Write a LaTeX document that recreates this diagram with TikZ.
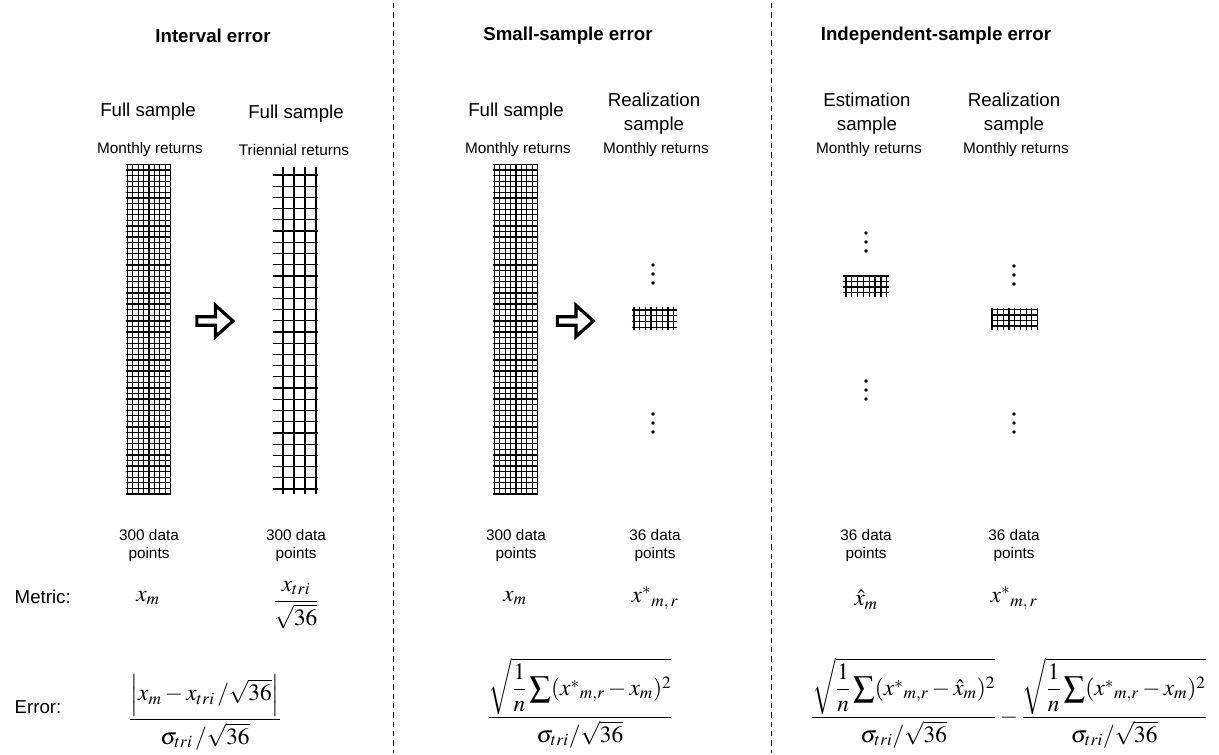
\documentclass[tikz,border=0pt]{standalone}
\usepackage{amsmath}
\usepackage{mathptmx}
\usepackage[no-math]{fontspec}
\setmainfont{Liberation Sans}
\usetikzlibrary{shapes.arrows}

% grid lines: first, last, intervals, from, to
\newcommand{\vlines}[5]{%
  \foreach \i in {0,...,#3}
    \draw[gridline] ({#1+\i/#3*(#2-#1)},#4) -- ({#1+\i/#3*(#2-#1)},#5);}
\newcommand{\hlines}[5]{%
  \foreach \j in {0,...,#3}
    \draw[gridline] (#4,{#1+\j/#3*(#2-#1)}) -- (#5,{#1+\j/#3*(#2-#1)});}
\newcommand{\bsum}{\mathop{\vcenter{\hbox{\scalebox{1.3}{$\sum$}}}}}

\tikzset{
  title/.style={font=\fontsize{14}{16}\selectfont\bfseries},
  head/.style={font=\fontsize{14}{18}\selectfont, align=center},
  sub/.style={font=\fontsize{11.5}{13}\selectfont},
  count/.style={font=\fontsize{11.5}{13.5}\selectfont, align=center},
  metric/.style={font=\fontsize{17.5}{20}\selectfont},
  gridline/.style={line width=0.95pt},
  sep/.style={dash pattern=on 4pt off 3pt, line width=0.6pt},
  bigarrow/.style={single arrow, draw, line width=2.4pt, inner xsep=0pt, inner ysep=2pt,
    minimum height=27pt, single arrow head extend=8.5pt, single arrow tip angle=84},
}

\begin{document}
\begin{tikzpicture}[x=0.75pt, y=-0.75pt]
  \useasboundingbox (0,0) rectangle (1219,755);

  % separators
  \draw[sep] (393,3) -- (393,753);
  \draw[sep] (771,3) -- (771,753);

  % titles
  \node[title] (tint) at (213,36) {Interval error};
  \node[title] (tsmall) at (568,36) {Small-sample error};
  \node[title] (tind) at (936,36) {Independent-sample error};

  % column heads
  \node[head] (hfullA) at (148,112) {Full sample};
  \node[head] (hfullB) at (296,114) {Full sample};
  \node[head] (hfullC) at (516,112) {Full sample};
  \node[head] (hrealA) at (654,114) {Realization\\sample};
  \node[head] (hest) at (867,114) {Estimation\\sample};
  \node[head] (hrealB) at (1014,114) {Realization\\sample};

  \node[sub] (sA) at (150,150) {Monthly returns};
  \node[sub] (sB) at (294,150) {Triennial returns};
  \node[sub] (sC) at (518,150) {Monthly returns};
  \node[sub] (sD) at (656,150) {Monthly returns};
  \node[sub] (sE) at (869,150) {Monthly returns};
  \node[sub] (sF) at (1016,150) {Monthly returns};

  % data grids
  \vlines{127.3}{170.7}{8}{164}{494.5}
  \hlines{164.5}{494}{59}{126}{171}
  \vlines{283}{316}{3}{167}{494}
  \hlines{175}{489}{28}{273}{318}
  \vlines{494.3}{537.7}{8}{164}{494.5}
  \hlines{164.5}{494}{59}{493}{538}
  \vlines{634}{673.5}{7}{306.7}{330}
  \hlines{310}{327.3}{3}{631.7}{677.3}
  \vlines{846}{886.7}{7}{275}{297}
  \hlines{276}{292.7}{3}{843.3}{889.3}
  \vlines{992}{1037.5}{8}{308.3}{330}
  \hlines{309.3}{326}{3}{991.7}{1037.7}

  % omitted rows
  \foreach \y in {265,274,283,414,423,432} \fill (653,\y) circle (1.8);
  \foreach \y in {233,242,251,381,390,399} \fill (866,\y) circle (1.8);
  \foreach \y in {266,275,284,414,423,432} \fill (1014,\y) circle (1.8);

  % arrows
  \node[bigarrow] (arrA) at (212.5,321) {};
  \node[bigarrow] (arrB) at (573,321) {};

  % counts
  \node[count] (cA) at (149,546) {300 data\\points};
  \node[count] (cB) at (296,546) {300 data\\points};
  \node[count] (cC) at (516,546) {300 data\\points};
  \node[count] (cD) at (655,546) {36 data\\points};
  \node[count] (cE) at (866,546) {36 data\\points};
  \node[count] (cF) at (1014,546) {36 data\\points};

  % metrics
  \node[head, anchor=west] (lmetric) at (10,597) {Metric:};
  \node[head, anchor=west] (lerror) at (10,707) {Error:};
  \node[metric] (mA) at (148,598) {$x_m$};
  \node[metric] (mB) at (296,605) {$\dfrac{x_{tri}}{\sqrt{36}}$};
  \node[metric] (mC) at (515,598) {$x_m$};
  \node[metric] (mD) at (655,598) {$x^{*}{}_{m,\,r}$};
  \node[metric] (mE) at (866,600) {$\hat{x}_m$};
  \node[metric] (mF) at (1014,598) {$x^{*}{}_{m,\,r}$};

  % errors
  \node[metric] (eA) at (205,712)
    {$\dfrac{\left|x_m - x_{tri}\,/\sqrt{36}\right|}{\sigma_{tri}\,/\sqrt{36}}$};
  \node[metric] (eB) at (580,703)
    {$\dfrac{\sqrt{\dfrac{1}{n}\bsum(x^{*}{}_{m,r}-x_m)^2}}{\sigma_{tri}/\sqrt{36}}$};
  \node[metric] (eC) at (1009,703)
    {$\dfrac{\sqrt{\dfrac{1}{n}\bsum(x^{*}{}_{m,r}-\hat{x}_m)^2}}{\sigma_{tri}/\sqrt{36}}
     -\dfrac{\sqrt{\dfrac{1}{n}\bsum(x^{*}{}_{m,r}-x_m)^2}}{\sigma_{tri}/\sqrt{36}}$};
\end{tikzpicture}
\end{document}
